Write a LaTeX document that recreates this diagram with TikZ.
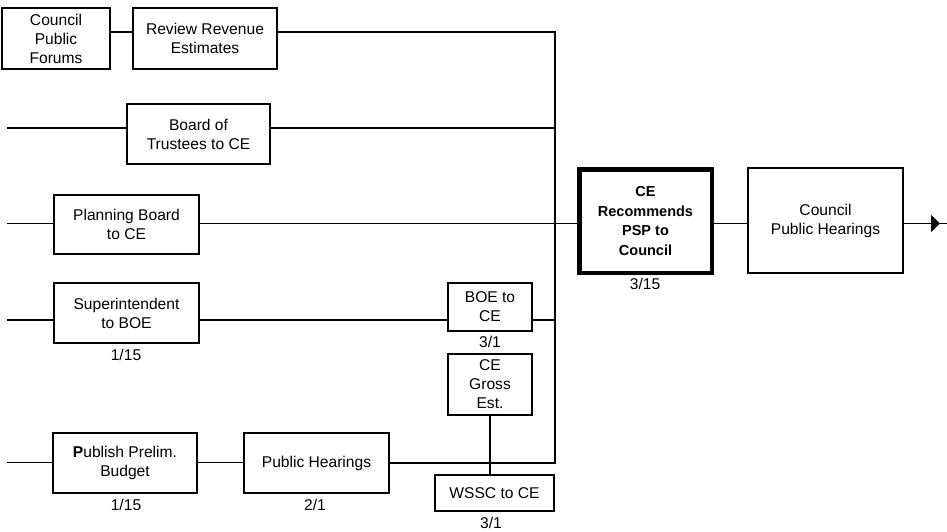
\documentclass[tikz,border=0pt]{standalone}
\usepackage{fontspec}
\setmainfont{Liberation Sans}
\usetikzlibrary{arrows.meta}
\begin{document}
\begin{tikzpicture}[x=1pt,y=-1pt,
  box/.style={draw,line width=1.8pt,inner sep=0pt,align=center,
    font=\fontsize{15.6}{19}\selectfont},
  cebox/.style={draw,line width=4.5pt,inner sep=0pt,align=center,
    font=\fontsize{14.5}{19.5}\selectfont\bfseries},
  lbl/.style={inner sep=0pt,font=\fontsize{15.6}{19}\selectfont},
  conn/.style={line width=1.7pt}]
\useasboundingbox (0,0) rectangle (947,531);

% boxes
\node[box,minimum width=108pt,minimum height=61pt] (cpf) at (56,38.5) {Council\\Public\\Forums};
\node[box,minimum width=144pt,minimum height=61pt] (rre) at (205,38.5) {Review Revenue\\Estimates};
\node[box,minimum width=143pt,minimum height=60pt] (bot) at (198.5,134) {Board of\\Trustees to CE};
\node[box,minimum width=145pt,minimum height=59pt] (pb) at (126.5,224.5) {Planning Board\\to CE};
\node[box,minimum width=145pt,minimum height=60pt] (sup) at (126.5,313) {Superintendent\\to BOE};
\node[box,minimum width=84pt,minimum height=48pt] (boe) at (490,307) {BOE to\\CE};
\node[box,minimum width=84pt,minimum height=61pt] (ceg) at (490,384.5) {CE\\Gross\\Est.};
\node[box,minimum width=119pt,minimum height=36pt] (wssc) at (494.5,493) {WSSC to CE};
\node[box,minimum width=144pt,minimum height=60pt] (ppb) at (125,463) {\textbf{P}ublish Prelim.\\Budget};
\node[box,minimum width=145pt,minimum height=60pt] (ph) at (316.5,463) {Public Hearings};
\node[cebox,minimum width=132.5pt,minimum height=103.5pt] (ce) at (645.5,221) {CE\\Recommends\\PSP to\\Council};
\node[box,minimum width=155pt,minimum height=105pt] (cph) at (825.5,220.5) {Council\\Public Hearings};

% date labels
\node[lbl] (d1) at (645,284) {3/15};
\node[lbl] (d2) at (126,355) {1/15};
\node[lbl] (d3) at (490,342) {3/1};
\node[lbl] (d4) at (126,505) {1/15};
\node[lbl] (d5) at (315,505) {2/1};
\node[lbl] (d6) at (491,523) {3/1};

% coordinates
\coordinate (J1) at (555,32);
\coordinate (J5) at (555,463);
\coordinate (L2) at (7,128);
\coordinate (L3) at (7,223.5);
\coordinate (L4) at (7,320);
\coordinate (L5) at (7,462.5);
\coordinate (A) at (940,223.5);
\coordinate (E) at (947,223.5);

% connectors
\draw[conn] ([yshift=6.5pt]cpf.east) -- ([yshift=6.5pt]rre.west);
\draw[conn] ([yshift=6.5pt]rre.east) -- (J1) -- (J5) -- (ph.east);
\draw[conn] (L2) -- (L2 -| bot.west);
\draw[conn] (bot.east |- L2) -- (L2 -| J1);
\draw[conn] (L3) -- (L3 -| pb.west);
\draw[conn] (pb.east |- L3) -- (L3 -| ce.west);
\draw[conn] (L4) -- (L4 -| sup.west);
\draw[conn] (sup.east |- L4) -- (L4 -| boe.west);
\draw[conn] (boe.east |- L4) -- (L4 -| J1);
\draw[conn] (L5) -- (L5 -| ppb.west);
\draw[conn] (ppb.east |- L5) -- (L5 -| ph.west);
\draw[conn] (ceg.south) -- (ceg.south |- wssc.north);
\draw[conn] (ce.east |- L3) -- (L3 -| cph.west);
\draw[conn,-{Triangle[length=9pt,width=17pt]}] (cph.east |- L3) -- (A);
\draw[conn] (A) -- (E);
\end{tikzpicture}
\end{document}
